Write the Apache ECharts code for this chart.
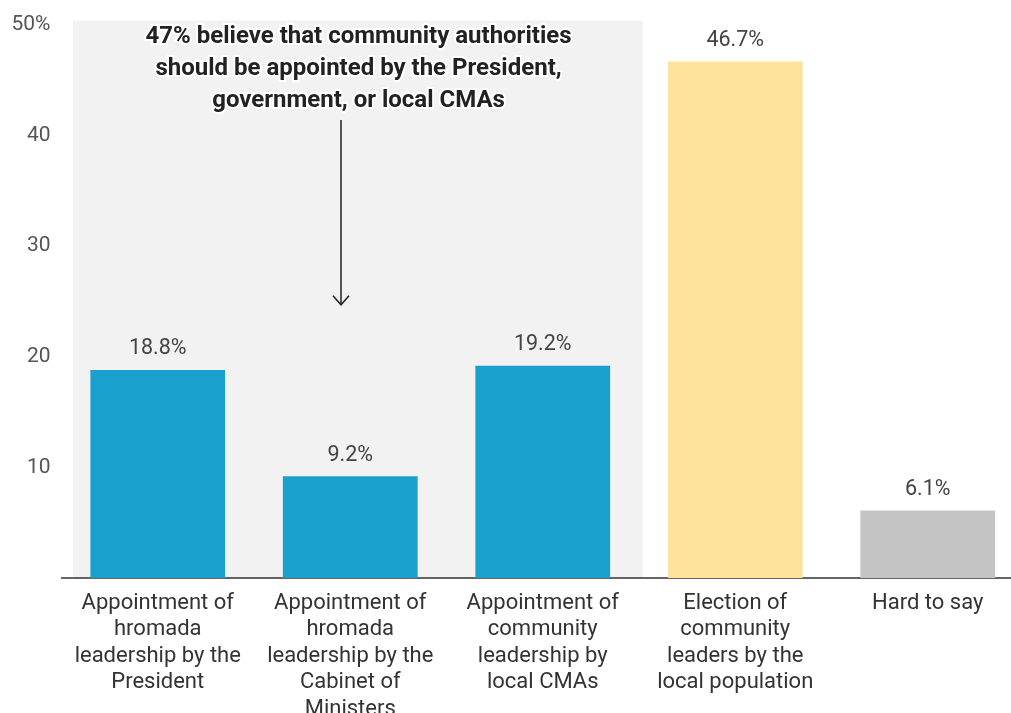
<!DOCTYPE html>
<html>
<head>
<meta charset="utf-8">
<script src="https://cdn.jsdelivr.net/npm/echarts@6/dist/echarts.min.js"></script>
<style>html,body{margin:0;padding:0;background:#fff;}#c{width:1011px;height:713px;}</style>
</head>
<body>
<div id="c"></div>
<script>
const categories = [
  'Appointment of\nhromada\nleadership by the\nPresident',
  'Appointment of\nhromada\nleadership by the\nCabinet of\nMinisters',
  'Appointment of\ncommunity\nleadership by\nlocal CMAs',
  'Election of\ncommunity\nleaders by the\nlocal population',
  'Hard to say'
];
const values = [18.8, 9.2, 19.2, 46.7, 6.1];
const barColors = ['#1aa0cc', '#1aa0cc', '#1aa0cc', '#fde39b', '#c4c4c4'];
const yTicks = [0, 10, 20, 30, 40, 50];
// annotation (value-x coordinates: category index units)
const highlightArea = [-0.44, 2.52, 0, 50.4];
const annotationText = ['47% believe that community authorities', 'should be appointed by the President,', 'government, or local CMAs'];
const annotationAnchor = [1.043, 50.35];
const arrowFrom = [0.952, 41.4];
const arrowTo = [0.952, 24.7];

const chart = echarts.init(document.getElementById('c'));
const font = 'Roboto, "Noto Sans", sans-serif';
chart.setOption({
  animation: false,
  grid: { left: 61.5, right: -13, top: 25, bottom: 135, containLabel: false, outerBoundsMode: 'none' },
  xAxis: [
    {
      type: 'category', data: categories,
      axisLine: { lineStyle: { color: '#333', width: 1.5 } },
      axisTick: { show: false },
      axisLabel: { interval: 0, fontSize: 22, lineHeight: 26.5, color: '#333', margin: 12, fontFamily: font, verticalAlign: 'top' }
    },
    { type: 'value', min: -0.5, max: 4.5, show: false }
  ],
  yAxis: {
    type: 'value', min: yTicks[0], max: yTicks[yTicks.length - 1], interval: 10,
    splitLine: { show: false }, axisLine: { show: false }, axisTick: { show: false },
    axisLabel: {
      fontSize: 21, color: '#555', margin: 11, fontFamily: font,
      formatter: v => v === 0 ? '' : (v === 50 ? v + '%' : String(v))
    }
  },
  series: [
    {
      type: 'custom', xAxisIndex: 1, yAxisIndex: 0, z: 0, silent: true, clip: false,
      data: [highlightArea],
      renderItem: (params, api) => {
        const p1 = api.coord([api.value(0), api.value(3)]);
        const p2 = api.coord([api.value(1), api.value(2)]);
        return { type: 'rect', shape: { x: p1[0], y: p1[1], width: p2[0] - p1[0], height: p2[1] - p1[1] }, style: { fill: '#f2f2f2' } };
      }
    },
    {
      type: 'bar', z: 2,
      data: values.map((v, i) => ({ value: v, itemStyle: { color: barColors[i] } })),
      barWidth: '70%',
      label: { show: true, position: 'top', distance: 10, fontSize: 21.5, color: '#444', fontFamily: font, formatter: p => p.value.toFixed(1) + '%' }
    },
    {
      type: 'custom', xAxisIndex: 1, yAxisIndex: 0, z: 5, silent: true, clip: false,
      data: [[arrowFrom[0], arrowFrom[1], arrowTo[0], arrowTo[1], annotationAnchor[0], annotationAnchor[1]]],
      renderItem: (params, api) => {
        const a = api.coord([api.value(0), api.value(1)]);
        const b = api.coord([api.value(2), api.value(3)]);
        const t = api.coord([api.value(4), api.value(5)]);
        return {
          type: 'group',
          children: [
            { type: 'line', shape: { x1: a[0], y1: a[1], x2: b[0], y2: b[1] }, style: { stroke: '#222', lineWidth: 1.5 } },
            { type: 'polyline', shape: { points: [[b[0] - 8, b[1] - 9], [b[0], b[1]], [b[0] + 8, b[1] - 9]] }, style: { stroke: '#222', lineWidth: 1.5, fill: null } },
            { type: 'text', x: t[0], y: t[1], style: {
                text: annotationText.join('\n'), align: 'center', verticalAlign: 'top',
                font: 'bold 24px ' + font, lineHeight: 32, fill: '#222', stroke: '#fff', lineWidth: 4
            } }
          ]
        };
      }
    }
  ]
});
</script>
</body>
</html>
